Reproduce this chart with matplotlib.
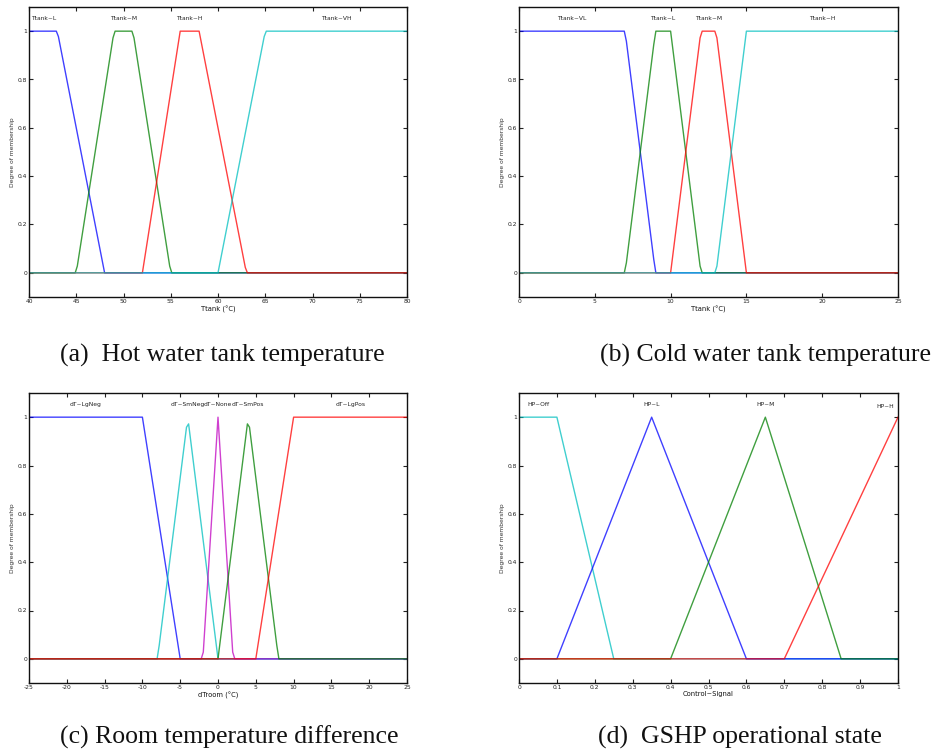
import numpy as np
import matplotlib
matplotlib.use("Agg")
import matplotlib.pyplot as plt

plt.rcParams["axes.unicode_minus"] = False

# ---------------- data ----------------
# (a) hot water tank temperature
a_range = [40, 80]
a_names = ["Ttank~L", "Ttank~M", "Ttank~H", "Ttank~VH"]
a_types = ["trap", "trap", "trap", "trap"]
a_params = [[40, 40, 43, 48], [45, 49, 51, 55], [52, 56, 58, 63], [60, 65, 80, 80]]
a_label_x = [41.5, 50, 57, 72.5]
a_xlabel = "Ttank (°C)"
a_xticks = [40, 45, 50, 55, 60, 65, 70, 75, 80]

# (b) cold water tank temperature
b_range = [0, 25]
b_names = ["Ttank~VL", "Ttank~L", "Ttank~M", "Ttank~H"]
b_types = ["trap", "trap", "trap", "trap"]
b_params = [[0, 0, 7, 9], [7, 9, 10, 12], [10, 12, 13, 15], [13, 15, 25, 25]]
b_label_x = [3.5, 9.5, 12.5, 20]
b_xlabel = "Ttank (°C)"
b_xticks = [0, 5, 10, 15, 20, 25]

# (c) room temperature difference
c_range = [-25, 25]
c_names = ["dT~LgNeg", "dT~SmNeg", "dT~None", "dT~SmPos", "dT~LgPos"]
c_types = ["trap", "tri", "tri", "tri", "trap"]
c_params = [[-25, -25, -10, -5], [-8, -4, 0], [-2, 0, 2], [0, 4, 8], [5, 10, 25, 25]]
c_label_x = [-17.5, -4, 0, 4, 17.5]
c_xlabel = "dTroom (°C)"
c_xticks = [-25, -20, -15, -10, -5, 0, 5, 10, 15, 20, 25]

# (d) GSHP operational state
d_range = [0, 1]
d_names = ["HP~Off", "HP~L", "HP~M", "HP~H"]
d_types = ["trap", "tri", "tri", "tri"]
d_params = [[0, 0, 0.1, 0.25], [0.1, 0.35, 0.6], [0.4, 0.65, 0.85], [0.7, 1.0, 1.3]]
d_label_x = [0.05, 0.35, 0.65, 0.965]
d_xlabel = "Control~Signal"
d_xticks = [0, 0.1, 0.2, 0.3, 0.4, 0.5, 0.6, 0.7, 0.8, 0.9, 1]
d_xticklabels = ["0", "0.1", "0.2", "0.3", "0.4", "0.5", "0.6", "0.7", "0.8", "0.9", "1"]

captions = ["(a)  Hot water tank temperature", "(b) Cold water tank temperature",
            "(c) Room temperature difference", "(d)  GSHP operational state"]

BLUE, GREEN, RED, CYAN, MAG = "#0000ff", "#007f00", "#ff0000", "#00bfbf", "#c000c0"
a_colors = [BLUE, GREEN, RED, CYAN]
b_colors = [BLUE, GREEN, RED, CYAN]
c_colors = [BLUE, CYAN, MAG, GREEN, RED]
d_colors = [CYAN, BLUE, GREEN, RED]


def trapmf(x, p):
    a, b, c, d = p
    y1 = np.ones_like(x) if b == a else np.clip((x - a) / (b - a), 0, 1)
    y2 = np.ones_like(x) if d == c else np.clip((d - x) / (d - c), 0, 1)
    y = np.minimum(y1, y2)
    y[(x < a) | (x > d)] = 0
    return y


def trimf(x, p):
    a, b, c = p
    left = np.where(x <= b, (x - a) / (b - a) if b != a else 1.0, 1.0)
    right = np.where(x >= b, (c - x) / (c - b) if c != b else 1.0, 1.0)
    return np.clip(np.minimum(left, right), 0, 1)


W, H = 936, 756
fig = plt.figure(figsize=(W / 100, H / 100), dpi=100)
fig.patch.set_facecolor("white")

panels = [
    (a_range, a_names, a_types, a_params, a_label_x, a_xlabel, a_xticks, None, a_colors, (29, 7, 407, 297)),
    (b_range, b_names, b_types, b_params, b_label_x, b_xlabel, b_xticks, None, b_colors, (519, 7, 898, 297)),
    (c_range, c_names, c_types, c_params, c_label_x, c_xlabel, c_xticks, None, c_colors, (29, 393, 407, 683)),
    (d_range, d_names, d_types, d_params, d_label_x, d_xlabel, d_xticks, d_xticklabels, d_colors, (519, 393, 898, 683)),
]

FS = 4.3
for i, (rng, names, types, params, lx, xlabel, xticks, xtl, colors, box) in enumerate(panels):
    l, t, r, b = box
    ax = fig.add_axes([l / W, 1 - b / H, (r - l) / W, (b - t) / H])
    x = np.linspace(rng[0], rng[1], 181)
    for name, ty, p, c, xl in zip(names, types, params, colors, lx):
        y = trapmf(x, p) if ty == "trap" else trimf(x, p)
        ax.plot(x, y, color=c, lw=1.0, alpha=0.75, solid_joinstyle="round")
        yl = 1.043 if (i == 3 and name == "HP~H") else 1.053
        ax.text(xl, yl, name, ha="center", va="center", fontsize=FS, color="#222222")
    ax.set_xlim(rng)
    ax.set_ylim(-0.1, 1.1)
    ax.set_xticks(xticks)
    if xtl is not None:
        ax.set_xticklabels(xtl)
    ax.set_yticks([0, 0.2, 0.4, 0.6, 0.8, 1])
    ax.set_yticklabels(["0", "0.2", "0.4", "0.6", "0.8", "1"])
    ax.tick_params(direction="in", length=3, width=0.8, labelsize=FS, pad=1.5,
                   top=True, right=True, colors="#222222")
    for s in ax.spines.values():
        s.set_linewidth(1.0)
        s.set_color("#111111")
    ax.set_xlabel(xlabel, fontsize=FS + 0.6, labelpad=1.0, color="#111111")
    ax.set_ylabel("Degree of membership", fontsize=FS, labelpad=2, color="#333333")

cap_pos = [(60, 355), (600, 355), (60, 737), (598, 737)]
for cap, (cx, cy) in zip(captions, cap_pos):
    fig.text(cx / W, 1 - cy / H, cap, ha="left", va="center", fontsize=18.5,
             family="Liberation Serif", color="#111111")

fig.savefig("out.png", dpi=100, facecolor="white")
